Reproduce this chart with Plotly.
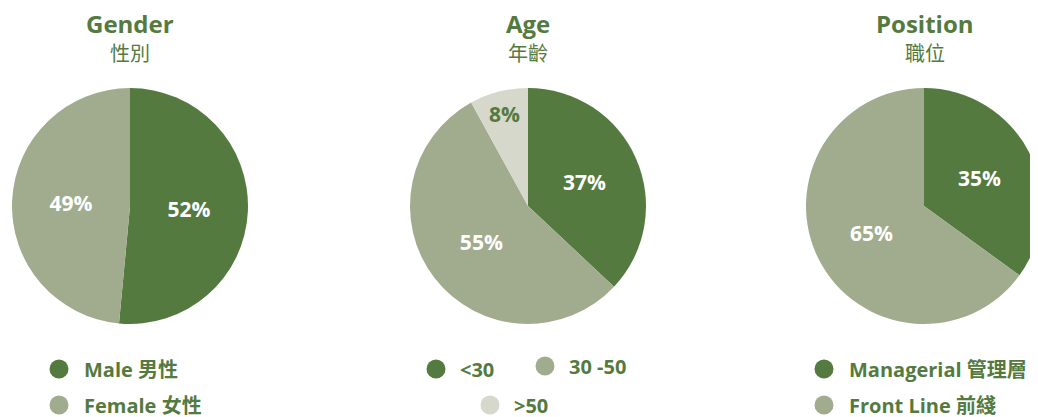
import plotly.graph_objects as go

W, H = 1038, 417
OFF = 8  # page body margin offset

# ---- data ----
gender_labels = ["Male 男性", "Female 女性"]
gender_values = [52, 49]
age_labels = ["<30", "30 -50", ">50"]
age_values = [37, 55, 8]
position_labels = ["Managerial 管理層", "Front Line 前綫"]
position_values = [35, 65]

titles_en = ["Gender", "Age", "Position"]
titles_zh = ["性別", "年齡", "職位"]

DARK = "#547A40"
SAGE = "#A1AC8E"
LIGHT = "#D5D8CA"
FONT = "Open Sans, Noto Sans CJK TC, sans-serif"


def px_x(p):
    return (p - OFF) / W


def px_y(p):
    return 1 - (p - OFF) / H


fig = go.Figure()

pies = [
    (gender_labels, gender_values, [DARK, SAGE], ["white", "white"], (12, 248)),
    (age_labels, age_values, [DARK, SAGE, LIGHT], ["white", "white", DARK], (410, 646)),
    (position_labels, position_values, [DARK, SAGE], ["white", "white"], (806, 1042)),
]
for labels, values, colors, tcolors, (x0, x1) in pies:
    fig.add_trace(go.Pie(
        labels=labels, values=values, sort=False, direction="clockwise", rotation=0,
        marker=dict(colors=colors, line=dict(width=0)),
        texttemplate="%{value}%", textposition="inside", insidetextorientation="horizontal",
        textfont=dict(family=FONT, size=21, color=tcolors, weight="bold"),
        domain=dict(x=[px_x(x0), px_x(x1)], y=[px_y(324), px_y(88)]),
        hoverinfo="skip", showlegend=False,
    ))

annotations = []
title_x = [130, 528, 925]
for tx, en, zh in zip(title_x, titles_en, titles_zh):
    annotations.append(dict(x=px_x(tx), y=px_y(24), text=en, showarrow=False, borderpad=0,
                            xref="paper", yref="paper", xanchor="center", yanchor="middle",
                            font=dict(family=FONT, size=24, color=DARK, weight="bold")))
    annotations.append(dict(x=px_x(tx), y=px_y(54), text=zh, showarrow=False, borderpad=0,
                            xref="paper", yref="paper", xanchor="center", yanchor="middle",
                            font=dict(family=FONT, size=20, color=DARK)))

# legend entries: (marker x, marker y, text x, label, color)
legend_items = [
    (59, 369, 83, gender_labels[0], DARK),
    (59, 405, 83, gender_labels[1], SAGE),
    (436, 369, 459, age_labels[0], DARK),
    (545, 366, 568, age_labels[1], SAGE),
    (490, 405, 513, age_labels[2], LIGHT),
    (824, 369, 848, position_labels[0], DARK),
    (824, 405, 848, position_labels[1], SAGE),
]
shapes = []
R = 9.5
for mx, my, tx, label, col in legend_items:
    shapes.append(dict(type="circle", xref="paper", yref="paper",
                       x0=px_x(mx - R), x1=px_x(mx + R), y0=px_y(my + R), y1=px_y(my - R),
                       fillcolor=col, line=dict(width=0)))
    annotations.append(dict(x=px_x(tx), y=px_y(my), text=label, showarrow=False, borderpad=0,
                            xref="paper", yref="paper", xanchor="left", yanchor="middle",
                            font=dict(family=FONT, size=20, color=DARK, weight="bold")))

fig.update_layout(
    width=W, height=H, margin=dict(l=0, r=0, t=0, b=0),
    paper_bgcolor="white", plot_bgcolor="white",
    annotations=annotations, shapes=shapes, showlegend=False,
)

fig.write_html("out.html")
